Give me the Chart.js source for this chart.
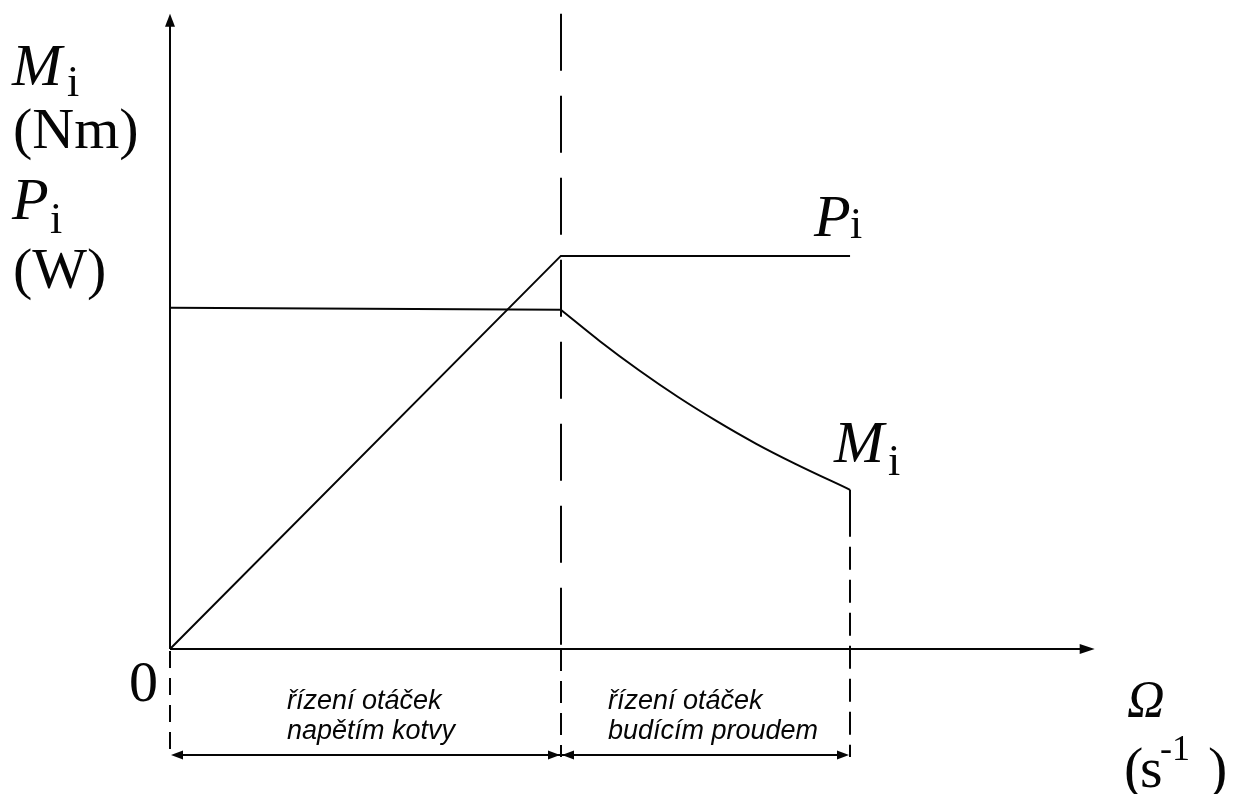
<!DOCTYPE html>
<html>
<head>
<meta charset="utf-8">
<script src="https://cdn.jsdelivr.net/npm/chart.js@4.4.0/dist/chart.umd.min.js"></script>
<style>
  html, body { margin: 0; padding: 0; background: #ffffff; }
  canvas { display: block; }
</style>
</head>
<body>
<canvas id="chart" width="1240" height="794"></canvas>
<script>
// Internal power P_i: rises linearly up to base speed, then stays constant
const powerOmega = [0, 1, 1.74];
const powerValues = [0, 1, 1];

// Internal torque M_i: constant under armature-voltage control
const torqueArmatureOmega = [0, 1];
const torqueArmatureValues = [0.868, 0.863];

// Internal torque M_i: falls under field-current (field weakening) control
const torqueFieldOmega = [1, 1.1, 1.2, 1.3, 1.4, 1.5, 1.6, 1.74];
const torqueFieldValues = [0.863, 0.783, 0.709, 0.641, 0.579, 0.522, 0.471, 0.405];

// Region boundaries on the speed axis
const baseSpeed = 1;
const maxSpeed = 1.74;
const axisTopValue = 1.616;
const axisRightValue = 2.366;

const regionLabels = [
  ['řízení otáček', 'napětím kotvy'],
  ['řízení otáček', 'budícím proudem']
];

const INK = '#050505';
const SERIF = '"Liberation Serif", "Times New Roman", serif';
const SANS = '"Liberation Sans", Arial, sans-serif';

function toPoints(xs, ys) {
  return xs.map((x, i) => ({ x: x, y: ys[i] }));
}

function arrowHead(ctx, tipX, tipY, dx, dy, len, half) {
  // dx,dy: unit direction in which the arrow points
  const bx = tipX - dx * len, by = tipY - dy * len;
  const px = -dy, py = dx;
  ctx.beginPath();
  ctx.moveTo(tipX, tipY);
  ctx.lineTo(bx + px * half, by + py * half);
  ctx.lineTo(bx - px * half, by - py * half);
  ctx.closePath();
  ctx.fill();
}

function vline(ctx, x, y1, y2, dash) {
  ctx.save();
  ctx.setLineDash(dash || []);
  ctx.beginPath();
  ctx.moveTo(x, y1);
  ctx.lineTo(x, y2);
  ctx.stroke();
  ctx.restore();
}

function text(ctx, str, x, y, font, align) {
  ctx.font = font;
  ctx.textAlign = align || 'left';
  ctx.textBaseline = 'alphabetic';
  ctx.fillText(str, x, y);
}

const diagramPlugin = {
  id: 'diagram',
  afterDatasetsDraw(chart) {
    const ctx = chart.ctx;
    const xs = chart.scales.x, ys = chart.scales.y;
    const x0 = Math.round(xs.getPixelForValue(0));
    const y0 = Math.round(ys.getPixelForValue(0));
    const xBase = Math.round(xs.getPixelForValue(baseSpeed));
    const xMax = Math.round(xs.getPixelForValue(maxSpeed));
    const yTop = ys.getPixelForValue(axisTopValue);
    const xRight = xs.getPixelForValue(axisRightValue);
    const yTorqueEnd = ys.getPixelForValue(torqueFieldValues[torqueFieldValues.length - 1]);
    const yDim = 755;
    const yDimEnd = 757;

    ctx.save();
    ctx.strokeStyle = INK;
    ctx.fillStyle = INK;
    ctx.lineWidth = 2;

    // axes with arrows
    vline(ctx, x0, y0, yTop + 10);
    arrowHead(ctx, x0, yTop, 0, -1, 13, 5);
    ctx.beginPath();
    ctx.moveTo(x0, y0);
    ctx.lineTo(xRight - 12, y0);
    ctx.stroke();
    arrowHead(ctx, xRight, y0, 1, 0, 15, 5);

    // boundary between the two control regions
    vline(ctx, xBase, yTop, y0, [57, 25]);
    vline(ctx, xBase, y0, yDimEnd, [22, 10]);
    // maximum speed
    vline(ctx, xMax, yTorqueEnd, yTorqueEnd + 47);
    vline(ctx, xMax, yTorqueEnd + 57, yDimEnd, [23, 10]);
    // origin extension
    vline(ctx, x0, y0 + 2, yDimEnd, [17, 10]);

    // dimension arrows below the axis
    ctx.beginPath();
    ctx.moveTo(x0 + 6, yDim);
    ctx.lineTo(xMax - 6, yDim);
    ctx.stroke();
    arrowHead(ctx, x0 + 1, yDim, -1, 0, 12, 4.5);
    arrowHead(ctx, xBase - 1, yDim, 1, 0, 12, 4.5);
    arrowHead(ctx, xBase + 1, yDim, -1, 0, 12, 4.5);
    arrowHead(ctx, xMax - 1, yDim, 1, 0, 12, 4.5);

    // region captions
    const capFont = 'italic 27px ' + SANS;
    text(ctx, regionLabels[0][0], 287, 709, capFont);
    text(ctx, regionLabels[0][1], 287, 739, capFont);
    text(ctx, regionLabels[1][0], 608, 709, capFont);
    text(ctx, regionLabels[1][1], 608, 739, capFont);

    // vertical axis quantities
    const symFont = 'italic 60px ' + SERIF;
    const subFont = '44px ' + SERIF;
    text(ctx, 'M', 12, 85, symFont);
    text(ctx, 'i', 67, 96, subFont);
    text(ctx, '(Nm)', 13, 148, '58px ' + SERIF);
    text(ctx, 'P', 12, 219, symFont);
    text(ctx, 'i', 50, 233, subFont);
    text(ctx, '(W)', 13, 288, '58px ' + SERIF);

    // curve names
    text(ctx, 'P', 814, 236, symFont);
    text(ctx, 'i', 850, 238, subFont);
    text(ctx, 'M', 834, 462, symFont);
    text(ctx, 'i', 888, 475, subFont);

    // origin and horizontal axis quantity
    text(ctx, '0', 129, 701, '58px ' + SERIF);
    text(ctx, 'Ω', 1127, 717, 'italic 52px ' + SERIF);
    text(ctx, '(', 1124, 787, '58px ' + SERIF);
    text(ctx, 's', 1140, 787, '58px ' + SERIF);
    text(ctx, '-1', 1160, 760, '36px ' + SERIF);
    text(ctx, ')', 1208, 787, '58px ' + SERIF);

    ctx.restore();
  }
};

const lineStyle = {
  borderColor: INK,
  borderWidth: 2,
  pointRadius: 0,
  fill: false,
  clip: false
};

new Chart(document.getElementById('chart'), {
  type: 'line',
  data: {
    datasets: [
      Object.assign({ label: 'P_i', data: toPoints(powerOmega, powerValues), tension: 0 }, lineStyle),
      Object.assign({ label: 'M_i', data: toPoints(torqueArmatureOmega, torqueArmatureValues), tension: 0 }, lineStyle),
      Object.assign({ label: 'M_i', data: toPoints(torqueFieldOmega, torqueFieldValues), cubicInterpolationMode: 'monotone' }, lineStyle)
    ]
  },
  options: {
    responsive: false,
    animation: false,
    events: [],
    layout: { padding: { left: 170, right: 132, top: 20, bottom: 145 } },
    scales: {
      x: { type: 'linear', min: 0, max: 2.4, display: false },
      y: { type: 'linear', min: 0, max: 1.6, display: false }
    },
    plugins: {
      legend: { display: false },
      tooltip: { enabled: false },
      title: { display: false }
    }
  },
  plugins: [diagramPlugin]
});
</script>
</body>
</html>
